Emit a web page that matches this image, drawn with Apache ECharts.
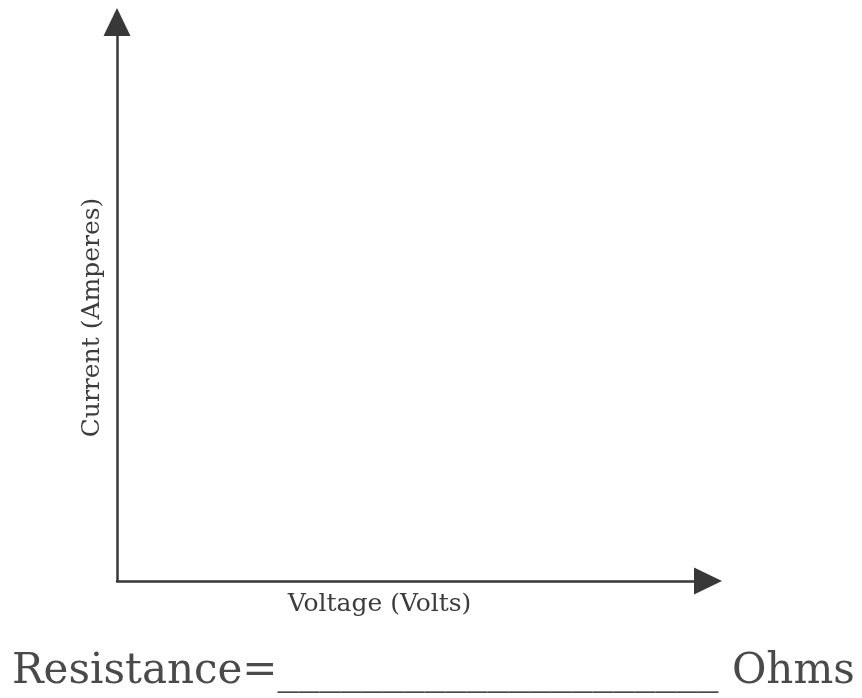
<!DOCTYPE html>
<html>
<head>
<meta charset="utf-8">
<script src="https://cdn.jsdelivr.net/npm/echarts@6/dist/echarts.min.js"></script>
<style>
  html, body { margin: 0; padding: 0; background: #fff; }
  #chart { width: 862px; height: 698px; }
</style>
</head>
<body>
<div id="chart"></div>
<script>
// Blank current–voltage worksheet graph: axes only, no plotted data yet.
const xAxisName = 'Voltage (Volts)';
const yAxisName = 'Current (Amperes)';
const resistanceLabel = 'Resistance=_____________________ Ohms';
const voltageValues = [];
const currentValues = [];

const serif = '"DejaVu Serif", "Liberation Serif", serif';
const axisColor = '#383838';

const chart = echarts.init(document.getElementById('chart'), null, { renderer: 'canvas' });

chart.setOption({
  backgroundColor: '#ffffff',
  animation: false,
  grid: { left: 117, top: 22, right: 154, bottom: 117, containLabel: false },
  xAxis: {
    type: 'value',
    min: 0,
    max: 10,
    name: xAxisName,
    nameLocation: 'middle',
    nameGap: 11,
    nameTextStyle: { fontFamily: serif, fontSize: 25, color: '#3c3c3c', padding: [0, 66, 0, 0] },
    axisLine: {
      show: true,
      lineStyle: { color: axisColor, width: 2.5 },
      symbol: ['none', 'triangle'],
      symbolSize: [27, 28]
    },
    axisTick: { show: false },
    axisLabel: { show: false },
    splitLine: { show: false }
  },
  yAxis: {
    type: 'value',
    min: 0,
    max: 10,
    name: yAxisName,
    nameLocation: 'middle',
    nameGap: 12,
    nameTextStyle: { fontFamily: serif, fontSize: 25, color: '#3c3c3c', padding: [0, 32, 0, 0] },
    axisLine: {
      show: true,
      lineStyle: { color: axisColor, width: 2.5 },
      symbol: ['none', 'triangle'],
      symbolSize: [27, 28]
    },
    axisTick: { show: false },
    axisLabel: { show: false },
    splitLine: { show: false }
  },
  title: {
    text: resistanceLabel,
    left: 12,
    top: 651,
    padding: 0,
    textStyle: { fontFamily: serif, fontSize: 42, fontWeight: 'normal', color: '#4a4a4a' }
  },
  series: [{
    type: 'line',
    data: voltageValues.map((v, i) => [v, currentValues[i]]),
    showSymbol: false
  }]
});
</script>
</body>
</html>
